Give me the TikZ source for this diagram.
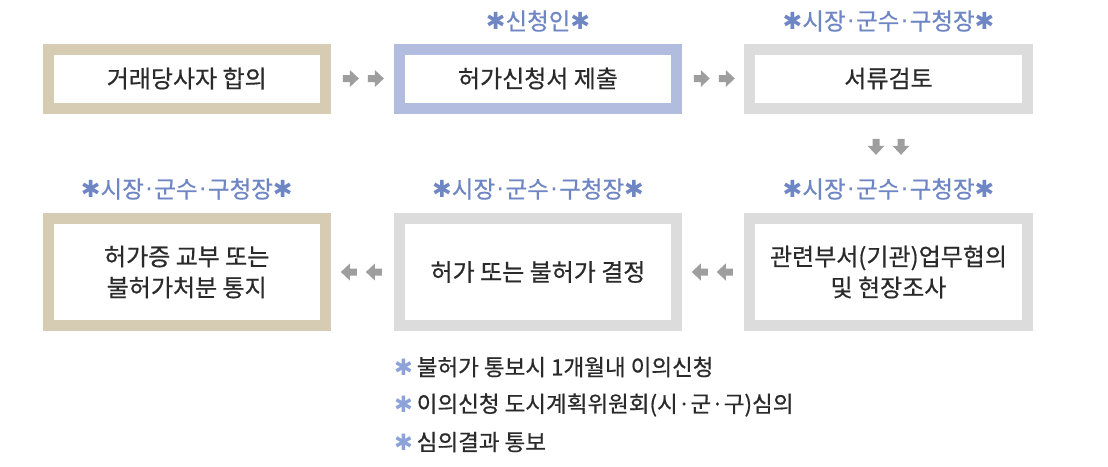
\documentclass[tikz,border=0pt]{standalone}
\usepackage{fontspec}
\setmainfont{Noto Sans CJK KR}
\newfontfamily\medfont[FakeBold=0.6]{Noto Sans CJK KR}
\newfontfamily\symfont{DejaVu Sans}
\definecolor{beige}{HTML}{D6CBB3}
\definecolor{lav}{HTML}{B2BCDE}
\definecolor{lgray}{HTML}{DCDCDC}
\definecolor{lblue}{HTML}{6F86C4}
\definecolor{ablue}{HTML}{8CA2D8}
\definecolor{agray}{HTML}{9E9E9E}
\definecolor{txt}{HTML}{2A2A2A}
\newcommand{\myast}{{\symfont ✱}}
\newcommand{\mydot}{\hspace{1.5pt}{\symfont ·}\hspace{1.5pt}}
\newcommand{\nast}{{\color{ablue}\symfont ✱}\,}
\tikzset{
  box/.style={draw, line width=11pt, fill=white, minimum width=277.5pt,
    minimum height=59pt, text=txt, font=\medfont\fontsize{24}{31}\selectfont,
    align=center, inner sep=0pt},
  tall/.style={minimum height=107.5pt},
  lbl/.style={text=lblue, font=\medfont\fontsize{23.5}{26}\selectfont, inner sep=0pt},
  note/.style={anchor=west, text=txt, font=\medfont\fontsize{22.5}{26}\selectfont, inner sep=0pt},
  onearrow/.pic={
    \fill[agray] (-7,-3.5) -- (0,-3.5) -- (0,-8.5) -- (9,0) -- (0,8.5) -- (0,3.5) -- (-7,3.5) -- cycle;
  },
  dblarrow/.pic={
    \pic[rotate=#1] at (-12.5,0) {onearrow};
    \pic[rotate=#1] at (12.5,0) {onearrow};
  }
}
\begin{document}
\begin{tikzpicture}[x=1pt,y=-1pt]
\useasboundingbox (0,0) rectangle (1108,466);
\fill[white] (0,0) rectangle (1108,466);
% boxes
\node[box, draw=beige] (b1) at (186.75,78.5) {거래당사자 합의};
\node[box, draw=lav] (b2) at (538,78.5) {허가신청서 제출};
\node[box, draw=lgray] (b3) at (888.5,78.5) {서류검토};
\node[box, tall, draw=beige] (b4) at (186.75,272) {허가증 교부 또는\\불허가처분 통지};
\node[box, tall, draw=lgray] (b5) at (538,272) {허가 또는 불허가 결정};
\node[box, tall, draw=lgray] (b6) at (888.5,272) {관련부서(기관)업무협의\\및 현장조사};
% labels
\node[lbl] (l2) at (538,21) {\myast 신청인\myast};
\node[lbl] (l3) at (888.5,21) {\myast 시장\mydot 군수\mydot 구청장\myast};
\node[lbl] (l4) at (186.75,189) {\myast 시장\mydot 군수\mydot 구청장\myast};
\node[lbl] (l5) at (538,189) {\myast 시장\mydot 군수\mydot 구청장\myast};
\node[lbl] (l6) at (888.5,189) {\myast 시장\mydot 군수\mydot 구청장\myast};
% arrows
\path (b1.east) -- (b2.west) pic[pos=0.5]{dblarrow=0};
\path (b2.east) -- (b3.west) pic[pos=0.5]{dblarrow=0};
\path (b3.south) -- (l6.north) pic[pos=0.5]{dblarrow=-90};
\path (b6.west) -- (b5.east) pic[pos=0.5]{dblarrow=180};
\path (b5.west) -- (b4.east) pic[pos=0.5]{dblarrow=180};
% notes
\node[note] (n1) at (394,367) {\nast 불허가 통보시 1개월내 이의신청};
\node[note] (n2) at (394,405) {\nast 이의신청 도시계획위원회(시·군·구)심의};
\node[note] (n3) at (394,442) {\nast 심의결과 통보};
\end{tikzpicture}
\end{document}
